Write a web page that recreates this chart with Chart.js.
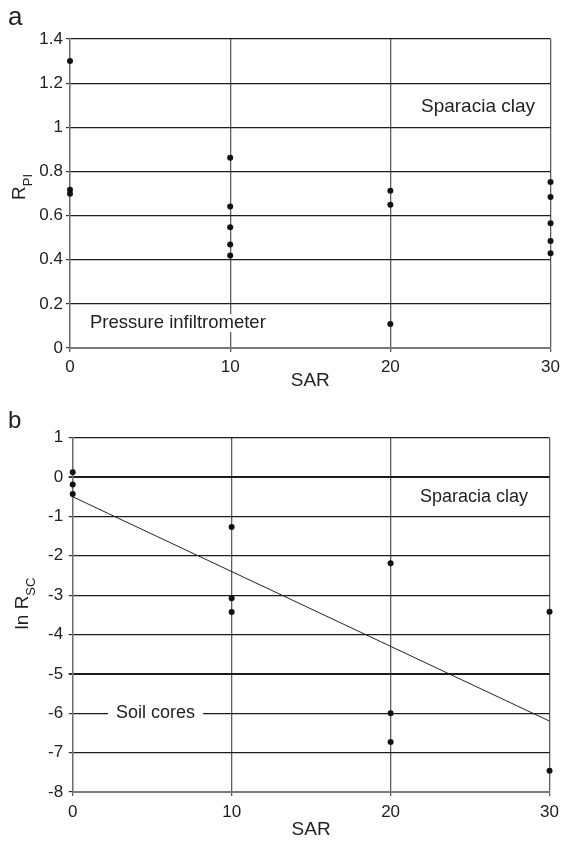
<!DOCTYPE html>
<html>
<head>
<meta charset="utf-8">
<script src="https://cdn.jsdelivr.net/npm/chart.js@4/dist/chart.umd.min.js"></script>
<style>
  html, body { margin:0; padding:0; background:#fff; }
  #wrap { position:relative; width:565px; height:847px; }
  canvas { position:absolute; left:0; }
</style>
</head>
<body>
<div id="wrap">
  <canvas id="chart-a" width="565" height="400" style="top:0"></canvas>
  <canvas id="chart-b" width="565" height="447" style="top:400px"></canvas>
</div>
<script>
// ── Data ───────────────────────────────────────────────────────
const sarTicks = [0, 10, 20, 30];

// panel a: pressure infiltrometer
const sarA = [0, 0, 0, 10, 10, 10, 10, 10, 20, 20, 20, 30, 30, 30, 30, 30];
const rPI  = [1.30, 0.717, 0.699, 0.862, 0.641, 0.547, 0.469, 0.419, 0.712, 0.649, 0.109, 0.752, 0.684, 0.565, 0.485, 0.429];

// panel b: soil cores
const sarB  = [0, 0, 0, 10, 10, 10, 20, 20, 20, 30, 30];
const lnRSC = [0.12, -0.19, -0.43, -1.27, -3.08, -3.43, -2.19, -6.0, -6.73, -3.42, -7.46];
const fitSAR = [0, 30];
const fitLn  = [-0.5, -6.2];

// ── Shared bits ────────────────────────────────────────────────
const FONT = '"Liberation Sans", Arial, sans-serif';
const pts = (xs, ys) => xs.map((x, i) => ({ x, y: ys[i] }));

// axis titles + free text drawn on the canvas
const textPlugin = {
  id: 'panelText',
  afterDatasetsDraw(chart, args, o) {
    const c = chart.ctx;
    c.save();
    c.fillStyle = '#222';
    // panel letter
    c.font = `${o.letterSize}px ${FONT}`;
    c.textAlign = 'left'; c.textBaseline = 'alphabetic';
    c.fillText(o.letter, 8, o.letterY);
    // x title
    c.font = `19px ${FONT}`;
    c.textAlign = 'center'; c.textBaseline = 'middle';
    c.fillText('SAR', (chart.chartArea.left + chart.chartArea.right) / 2, o.xTitleY);
    // y title with subscript, rotated
    c.save();
    c.translate(o.yTitle.x, o.yTitle.y);
    c.rotate(-Math.PI / 2);
    c.textAlign = 'left'; c.textBaseline = 'alphabetic';
    c.font = `19px ${FONT}`;
    const wMain = c.measureText(o.yTitle.main).width;
    c.font = `13px ${FONT}`;
    const wSub = c.measureText(o.yTitle.sub).width;
    const x0 = -(wMain + wSub) / 2;
    c.font = `19px ${FONT}`;
    c.fillText(o.yTitle.main, x0, 0);
    c.font = `13px ${FONT}`;
    c.fillText(o.yTitle.sub, x0 + wMain, 7);
    c.restore();
    // annotations
    o.notes.forEach(n => {
      c.font = `${n.size}px ${FONT}`;
      c.textAlign = n.align; c.textBaseline = 'middle';
      const w = c.measureText(n.text).width;
      if (n.box) {
        const left = n.align === 'center' ? n.x - w / 2 : n.x;
        c.fillStyle = '#fff';
        c.fillRect(left - n.box, n.y - 9, w + 2 * n.box, 18);
        c.fillStyle = '#222';
      }
      c.fillText(n.text, n.x, n.y);
    });
    c.restore();
  }
};

function makeOpts(cfg) {
  return {
    responsive: false,
    animation: false,
    layout: { padding: { left: 0, right: 11, top: cfg.top, bottom: 0 } },
    plugins: { legend: { display: false }, tooltip: { enabled: false }, panelText: cfg.text },
    scales: {
      x: {
        type: 'linear', min: 0, max: 30,
        afterFit: s => { s.height = cfg.xHeight; },
        afterBuildTicks: s => { s.ticks = sarTicks.map(v => ({ value: v })); },
        ticks: { color: '#222', font: { family: FONT, size: 17 }, padding: cfg.xPad, maxRotation: 0 },
        grid: { color: '#5e5e5e', lineWidth: 1.3, tickLength: 4, tickColor: '#5e5e5e' },
        border: { color: '#7a7a7a', width: 2 }
      },
      y: {
        min: cfg.yMin, max: cfg.yMax,
        afterFit: s => { s.width = cfg.yWidth; },
        ticks: {
          stepSize: cfg.step, color: '#222', font: { family: FONT, size: 17 }, padding: cfg.yPad,
          callback: v => String(Math.round(v * 10) / 10)
        },
        grid: {
          color: c => c.tick.value === cfg.yMin ? 'rgba(0,0,0,0)' : '#1c1c1c',
          lineWidth: c => cfg.thick.includes(c.tick.value) ? 2 : 1.2,
          tickLength: 4, tickColor: '#333'
        },
        border: { color: '#6e6e6e', width: 1.3 }
      }
    }
  };
}

const dotStyle = { backgroundColor: '#111', borderColor: '#111', pointRadius: 3, pointBorderWidth: 0, clip: false };

// ── Panel a ────────────────────────────────────────────────────
new Chart(document.getElementById('chart-a'), {
  type: 'scatter',
  data: { datasets: [{ data: pts(sarA, rPI), ...dotStyle }] },
  options: makeOpts({
    top: 39, xHeight: 52, yWidth: 70, xPad: 5, yPad: 3,
    yMin: 0, yMax: 1.4, step: 0.2, thick: [0.8],
    text: {
      letter: 'a', letterSize: 26, letterY: 25, xTitleY: 381,
      yTitle: { x: 25, y: 187, main: 'R', sub: 'PI' },
      notes: [
        { text: 'Sparacia clay', x: 478, y: 107, size: 19, align: 'center' },
        { text: 'Pressure infiltrometer', x: 90, y: 323, size: 18.5, align: 'left', box: 3 }
      ]
    }
  }),
  plugins: [textPlugin]
});

// ── Panel b ────────────────────────────────────────────────────
new Chart(document.getElementById('chart-b'), {
  type: 'scatter',
  data: { datasets: [
    { data: pts(sarB, lnRSC), ...dotStyle },
    { type: 'line', data: pts(fitSAR, fitLn), borderColor: '#222', borderWidth: 1, pointRadius: 0, fill: false }
  ] },
  options: makeOpts({
    top: 37.7, xHeight: 55, yWidth: 72.7, xPad: 6, yPad: 5.5,
    yMin: -8, yMax: 1, step: 1, thick: [0, -5],
    text: {
      letter: 'b', letterSize: 24, letterY: 28, xTitleY: 430,
      yTitle: { x: 28, y: 203.5, main: 'ln R', sub: 'SC' },
      notes: [
        { text: 'Sparacia clay', x: 474, y: 97, size: 18, align: 'center' },
        { text: 'Soil cores', x: 155.5, y: 313, size: 18, align: 'center', box: 8 }
      ]
    }
  }),
  plugins: [textPlugin]
});
</script>
</body>
</html>
